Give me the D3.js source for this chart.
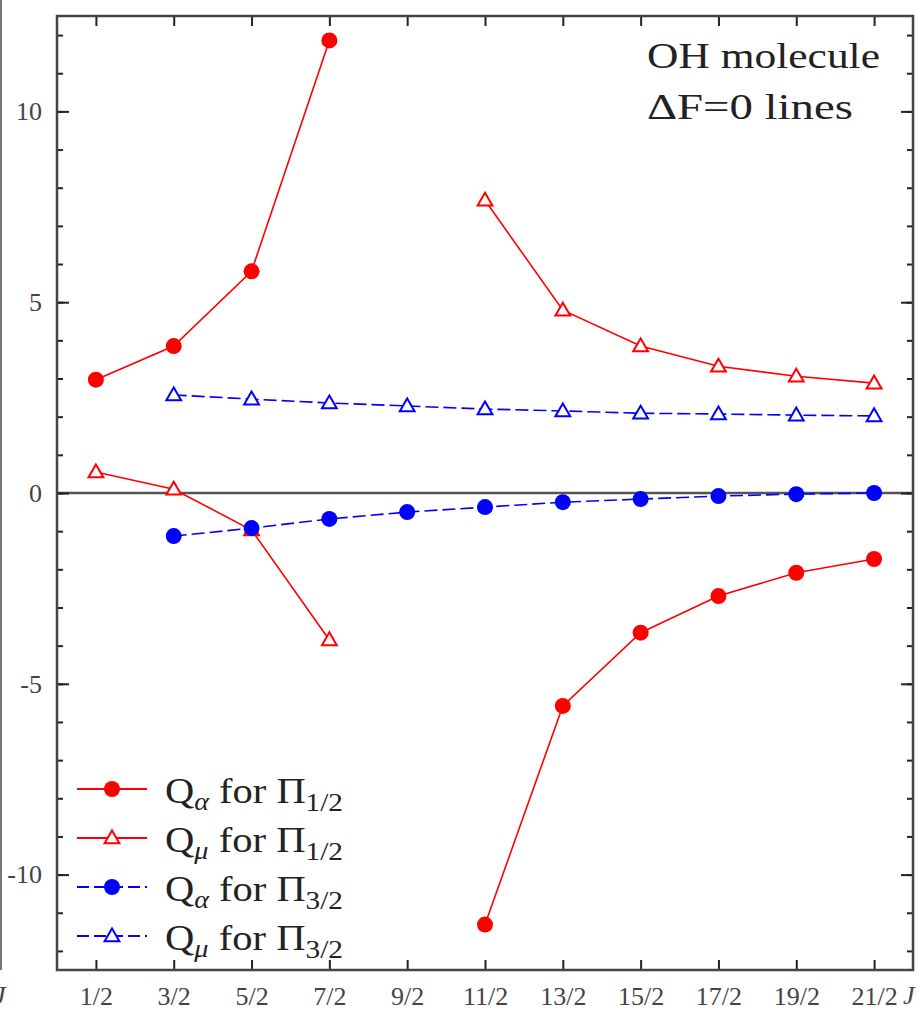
<!DOCTYPE html>
<html>
<head>
<meta charset="utf-8">
<script src="https://cdn.jsdelivr.net/npm/d3@7"></script>
<style>
  body { margin: 0; background: #fff; }
  svg { display: block; }
</style>
</head>
<body>
<div id="content"></div>
<script>
// J values and their tick labels
var jValues = [0.5, 1.5, 2.5, 3.5, 4.5, 5.5, 6.5, 7.5, 8.5, 9.5, 10.5];
var jLabels = ["1/2", "3/2", "5/2", "7/2", "9/2", "11/2", "13/2", "15/2", "17/2", "19/2", "21/2"];

// series values (null = no point)
var qAlphaPi12 = [2.97, 3.85, 5.81, 11.86, null, -11.31, -5.58, -3.66, -2.70, -2.09, -1.73];
var qMuPi12    = [0.55, 0.10, -0.97, -3.85, null, 7.67, 4.79, 3.85, 3.32, 3.06, 2.88];
var qAlphaPi32 = [null, -1.13, -0.92, -0.68, -0.50, -0.37, -0.24, -0.16, -0.08, -0.03, 0.0];
var qMuPi32    = [null, 2.57, 2.46, 2.36, 2.28, 2.20, 2.15, 2.09, 2.07, 2.04, 2.02];

var yMajorTicks = [-10, -5, 0, 5, 10];
var yMinorTicks = d3.range(-12, 13, 1);

var seriesList = [
	{ values: qAlphaPi12, color: "#ff0000", dashed: false, marker: "circle", sub: "α", pi: "1/2" },
	{ values: qMuPi12, color: "#ff0000", dashed: false, marker: "triangle", sub: "μ", pi: "1/2" },
	{ values: qAlphaPi32, color: "#0000ff", dashed: true, marker: "circle", sub: "α", pi: "3/2" },
	{ values: qMuPi32, color: "#0000ff", dashed: true, marker: "triangle", sub: "μ", pi: "3/2" }
];

function main() {
	var width = 918, height = 1010;
	var margin = { top: 16, right: 5, bottom: 40, left: 57 };

	var svg = d3.select("#content").append("svg")
		.attr("width", width)
		.attr("height", height);

	var x = d3.scaleLinear().domain([0, 11]).range([margin.left, width - margin.right]);
	var y = d3.scaleLinear().domain([-12.5, 12.5]).range([height - margin.bottom, margin.top]);

	var fontFamily = "'Liberation Serif', 'DejaVu Serif', serif";
	var axisColor = "#444";

	// piece of the neighbouring panel cut off at the left edge
	svg.append("line")
		.attr("x1", 1).attr("x2", 1).attr("y1", 0).attr("y2", y(-12.5))
		.attr("stroke", "#777").attr("stroke-width", 2);
	svg.append("text")
		.attr("x", -6).attr("y", 1004)
		.attr("font-family", fontFamily).attr("font-style", "italic")
		.attr("font-size", 26).attr("fill", "#444")
		.text("J");

	// zero line
	svg.append("line")
		.attr("x1", x(0)).attr("x2", x(11))
		.attr("y1", y(0)).attr("y2", y(0))
		.attr("stroke", "#555").attr("stroke-width", 2.5);

	// axes
	var bottomAxis = svg.append("g")
		.attr("transform", "translate(0," + y(-12.5) + ")")
		.call(d3.axisBottom(x).tickValues(jValues)
			.tickFormat(function (d, i) { return jLabels[i]; })
			.tickSizeInner(-10).tickSizeOuter(0).tickPadding(17));

	var topAxis = svg.append("g")
		.attr("transform", "translate(0," + y(12.5) + ")")
		.call(d3.axisTop(x).tickValues(jValues).tickFormat("")
			.tickSizeInner(-10).tickSizeOuter(0));

	var leftAxis = svg.append("g")
		.attr("transform", "translate(" + x(0) + ",0)")
		.call(d3.axisLeft(y).tickValues(yMajorTicks)
			.tickFormat(function (d) { return String(d); })
			.tickSizeInner(-12).tickSizeOuter(0).tickPadding(15));

	var leftMinor = svg.append("g")
		.attr("transform", "translate(" + x(0) + ",0)")
		.call(d3.axisLeft(y).tickValues(yMinorTicks).tickFormat("")
			.tickSizeInner(-6).tickSizeOuter(0));

	var rightAxis = svg.append("g")
		.attr("transform", "translate(" + x(11) + ",0)")
		.call(d3.axisRight(y).tickValues(yMajorTicks).tickFormat("")
			.tickSizeInner(-12).tickSizeOuter(0));

	var rightMinor = svg.append("g")
		.attr("transform", "translate(" + x(11) + ",0)")
		.call(d3.axisRight(y).tickValues(yMinorTicks).tickFormat("")
			.tickSizeInner(-6).tickSizeOuter(0));

	[bottomAxis, topAxis, leftAxis, leftMinor, rightAxis, rightMinor].forEach(function (g) {
		g.select(".domain").remove();
		g.selectAll(".tick line").attr("stroke", "#222").attr("stroke-width", 2);
		g.selectAll(".tick text")
			.attr("font-family", fontFamily)
			.attr("font-size", 26)
			.attr("fill", axisColor);
	});

	// x axis title, right after the last tick label
	svg.append("text")
		.attr("x", 903).attr("y", 1004)
		.attr("font-family", fontFamily).attr("font-style", "italic")
		.attr("font-size", 26).attr("fill", "#444")
		.text("J");

	// frame
	svg.append("rect")
		.attr("x", x(0)).attr("y", y(12.5))
		.attr("width", x(11) - x(0)).attr("height", y(-12.5) - y(12.5))
		.attr("fill", "none").attr("stroke", axisColor).attr("stroke-width", 2.5);

	// series
	var line = d3.line()
		.defined(function (d) { return d != null; })
		.x(function (d, i) { return x(jValues[i]); })
		.y(function (d) { return y(d); });

	var tri = d3.symbol().type(d3.symbolTriangle).size(95);

	seriesList.forEach(function (s) {
		var g = svg.append("g");
		g.append("path")
			.datum(s.values)
			.attr("d", line)
			.attr("fill", "none")
			.attr("stroke", s.color)
			.attr("stroke-width", 1.6)
			.attr("stroke-dasharray", s.dashed ? "13,5" : null);

		var pts = s.values.map(function (v, i) { return { j: jValues[i], v: v }; })
			.filter(function (d) { return d.v != null; });

		if (s.marker === "circle") {
			g.selectAll("circle").data(pts).enter().append("circle")
				.attr("cx", function (d) { return x(d.j); })
				.attr("cy", function (d) { return y(d.v); })
				.attr("r", 8)
				.attr("fill", s.color);
		} else {
			g.selectAll("path.tri").data(pts).enter().append("path")
				.attr("class", "tri")
				.attr("d", tri)
				.attr("transform", function (d) { return "translate(" + x(d.j) + "," + (y(d.v) + 1) + ")"; })
				.attr("fill", "#fff")
				.attr("stroke", s.color)
				.attr("stroke-width", 2);
		}
	});

	// title
	var title = svg.append("g")
		.attr("font-family", fontFamily)
		.attr("font-size", 36)
		.attr("fill", "#222");
	title.append("text").attr("x", 647).attr("y", 68)
		.attr("textLength", 233).attr("lengthAdjust", "spacingAndGlyphs")
		.text("OH molecule");
	title.append("text").attr("x", 647).attr("y", 119)
		.attr("textLength", 206).attr("lengthAdjust", "spacingAndGlyphs")
		.text("ΔF=0 lines");

	// legend
	var legend = svg.append("g");
	seriesList.forEach(function (s, i) {
		var cy = 789 + i * 49;
		var row = legend.append("g").attr("transform", "translate(0," + cy + ")");
		row.append("line")
			.attr("x1", 77).attr("x2", 147).attr("y1", 0).attr("y2", 0)
			.attr("stroke", s.color).attr("stroke-width", 1.8)
			.attr("stroke-dasharray", s.dashed ? "12,5" : null);
		if (s.marker === "circle") {
			row.append("circle").attr("cx", 112).attr("cy", 0).attr("r", 8).attr("fill", s.color);
		} else {
			row.append("path").attr("d", tri)
				.attr("transform", "translate(112,1)")
				.attr("fill", "#fff").attr("stroke", s.color).attr("stroke-width", 2);
		}
		var t = row.append("text")
			.attr("x", 165).attr("y", 14)
			.attr("font-family", fontFamily)
			.attr("font-size", 36)
			.attr("fill", "#222")
			.attr("textLength", 178).attr("lengthAdjust", "spacingAndGlyphs");
		t.append("tspan").text("Q");
		t.append("tspan").attr("font-size", 25).attr("dy", 7).attr("font-style", "italic").text(s.sub);
		t.append("tspan").attr("dy", -7).text(" for Π");
		t.append("tspan").attr("font-size", 26).attr("dy", 8).text(s.pi);
	});
}

main();
</script>
</body>
</html>
